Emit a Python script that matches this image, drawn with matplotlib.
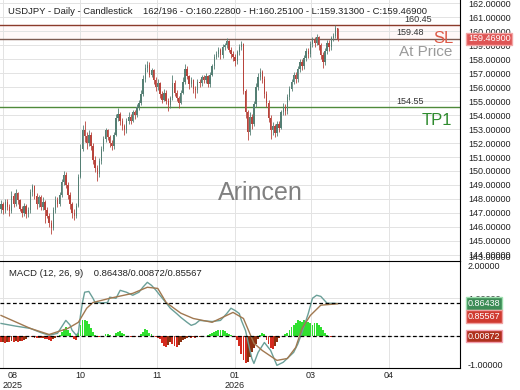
import matplotlib.pyplot as plt
from matplotlib import transforms

plt.rcParams['font.family'] = ['Liberation Sans', 'DejaVu Sans']

# daily candles (bar 0 .. 161)
first_open = 147.3
closes = [147.6, 147.2, 147.8, 147.4, 147.1, 148.2, 147.6, 148.4, 147.9, 147.3,
          147.0, 147.5, 146.9, 147.2, 148.5, 148.9, 148.2, 147.6, 148.1, 147.4,
          147.8, 147.2, 146.8, 146.3, 145.9, 147.2, 147.9, 147.6, 148.3, 149.2,
          149.7, 149.0, 148.3, 147.6, 147.0, 146.8, 147.5, 149.6, 151.6, 152.9,
          152.5, 152.0, 152.6, 151.8, 150.8, 150.2, 149.8, 150.7, 151.6, 152.3,
          152.9, 152.4, 152.0, 151.8, 152.6, 153.8, 154.1, 153.6, 153.2, 152.9,
          153.6, 153.9, 153.6, 154.2, 154.0, 154.6, 154.9, 155.5, 156.6, 157.4,
          157.6, 156.9, 157.2, 156.5, 156.0, 156.3, 155.5, 155.1, 155.6, 155.0,
          154.7, 155.2, 156.3, 155.6, 155.2, 154.9, 155.6, 156.4, 157.3, 156.8,
          156.2, 156.5, 155.9, 155.8, 156.4, 156.3, 156.7, 156.5, 156.8, 156.2,
          156.9, 157.5, 158.2, 158.4, 158.7, 158.3, 158.9, 159.0, 159.3, 158.7,
          158.4, 158.2, 157.9, 158.5, 158.9, 159.1, 155.7, 154.2, 152.8, 153.9,
          153.4, 154.8, 156.0, 156.7, 157.1, 156.6, 155.5, 154.9, 153.8, 152.9,
          153.2, 152.7, 153.4, 153.1, 154.2, 154.6, 154.3, 155.3, 155.9, 156.4,
          156.9, 156.6, 157.3, 157.8, 157.5, 158.1, 158.6, 158.4, 159.1, 159.4,
          159.2, 159.6, 159.0, 158.3, 157.8, 158.6, 159.2, 158.9, 159.5, 159.7,
          160.228, 159.469]
highs = [147.9, 147.8, 148.0, 148.0, 147.6, 148.6, 148.4, 148.7, 148.5, 148.0,
         147.5, 147.7, 147.6, 147.4, 148.7, 149.1, 149.0, 148.4, 148.3, 148.3,
         148.1, 147.9, 147.4, 147.0, 146.5, 147.4, 148.2, 148.1, 148.5, 149.4,
         150.0, 149.9, 149.2, 148.5, 147.8, 147.3, 147.7, 149.8, 151.9, 153.3,
         153.6, 152.8, 152.9, 152.8, 152.0, 151.1, 150.4, 150.9, 151.8, 152.5,
         153.1, 153.0, 152.6, 152.2, 152.8, 154.1, 154.5, 154.2, 153.8, 153.4,
         153.8, 154.2, 154.1, 154.4, 154.4, 154.8, 155.1, 155.8, 156.9, 157.7,
         157.9, 157.8, 157.4, 157.3, 156.7, 156.6, 156.4, 155.7, 155.9, 155.8,
         155.2, 155.4, 156.9, 156.5, 155.8, 155.4, 155.8, 156.7, 157.7, 157.5,
         156.9, 156.7, 156.6, 156.1, 156.6, 156.6, 156.9, 156.9, 157.0, 156.9,
         157.1, 157.7, 158.4, 158.6, 158.9, 158.8, 159.1, 159.2, 159.5, 159.4,
         158.9, 158.6, 158.4, 158.7, 159.1, 159.3, 159.2, 155.9, 154.4, 154.2,
         154.1, 155.0, 156.3, 157.0, 157.4, 157.2, 156.8, 155.7, 155.1, 154.0,
         153.5, 153.4, 153.6, 153.6, 154.4, 154.9, 154.8, 155.5, 156.1, 156.6,
         157.1, 157.1, 157.5, 158.0, 158.0, 158.3, 158.8, 158.8, 159.3, 159.6,
         159.6, 159.8, 159.7, 159.2, 158.5, 158.8, 159.4, 159.4, 159.7, 159.9,
         160.45, 160.251]
lows = [147.0, 146.9, 147.0, 147.2, 146.8, 147.0, 147.4, 147.5, 147.6, 147.1,
        146.7, 146.8, 146.6, 146.7, 147.0, 148.2, 148.0, 147.3, 147.4, 147.2,
        147.2, 146.3, 146.6, 146.0, 145.5, 145.8, 147.0, 147.4, 147.5, 148.1,
        149.0, 148.8, 148.0, 147.3, 146.6, 146.5, 146.6, 147.4, 149.5, 151.4,
        152.1, 151.6, 151.8, 151.5, 150.5, 149.9, 149.3, 149.6, 150.5, 151.4,
        152.1, 152.2, 151.7, 151.5, 151.6, 152.5, 153.6, 153.3, 152.9, 152.6,
        152.7, 153.4, 153.4, 153.5, 153.7, 153.9, 154.4, 154.7, 155.4, 156.4,
        157.1, 156.7, 156.7, 156.2, 155.7, 155.8, 155.2, 154.9, 155.0, 154.8,
        154.3, 154.5, 155.1, 155.4, 155.0, 154.5, 154.8, 155.5, 156.2, 156.6,
        155.9, 156.0, 155.6, 155.2, 155.6, 156.0, 156.1, 156.3, 156.3, 156.0,
        156.0, 156.8, 157.3, 158.0, 158.2, 158.0, 158.1, 158.7, 158.8, 158.5,
        158.1, 157.9, 157.5, 157.7, 158.3, 158.7, 155.5, 153.8, 152.2, 152.6,
        153.0, 153.2, 154.6, 155.8, 156.5, 156.3, 155.2, 154.6, 153.5, 152.3,
        152.6, 152.4, 152.5, 152.8, 153.0, 154.0, 154.0, 154.1, 155.1, 155.7,
        156.2, 156.3, 156.4, 157.1, 157.2, 157.3, 157.9, 158.1, 158.2, 158.9,
        158.9, 159.0, 158.7, 158.0, 157.4, 157.6, 158.4, 158.6, 158.7, 159.3,
        159.5, 159.313]

# MACD (12, 26, 9) lines, read at points along the curves (bar index, value)
macd_idx = [0, 7, 14, 19, 23, 27, 29, 31, 33, 34, 36, 37, 38, 39, 40, 42, 44, 45,
            48, 51, 52, 55, 57, 60, 63, 66, 68, 70, 72, 74, 76, 79, 81, 84, 86,
            89, 91, 93, 95, 101, 105, 108, 110, 112, 114, 115, 117, 118, 120, 121,
            123, 126, 129, 132, 135, 140, 142, 144, 147, 149, 151, 153, 156, 159,
            161]
macd_val = [0.34, 0.27, 0.21, 0.10, 0.03, 0.08, 0.25, 0.42, 0.30, 0.16, 0.03,
            0.10, 0.55, 0.90, 1.16, 1.18, 1.00, 0.89, 0.88, 0.89, 1.03, 1.00, 1.21,
            1.16, 1.08, 1.16, 1.30, 1.42, 1.34, 1.22, 1.08, 0.88, 0.74, 0.60, 0.50,
            0.37, 0.29, 0.33, 0.42, 0.39, 0.42, 0.60, 0.74, 0.68, 0.60, 0.42, 0.15,
            -0.10, -0.58, -0.71, -0.42, -0.16, -0.37, -0.76, -0.68, -0.42, -0.20,
            0.10, 0.60, 1.00, 1.08, 1.05, 0.87, 0.87, 0.86438]
sig_idx = [0, 14, 23, 32, 37, 41, 44, 52, 63, 70, 75, 79, 86, 92, 101, 111, 116,
           121, 125, 132, 137, 141, 144, 148, 153, 161]
sig_val = [0.55, 0.21, 0.05, 0.21, 0.37, 0.74, 0.89, 1.00, 1.13, 1.29, 1.26, 0.89,
           0.61, 0.47, 0.37, 0.63, 0.47, -0.18, -0.37, -0.63, -0.58, -0.29, 0.21,
           0.55, 0.82, 0.85567]
hist = [-0.16, -0.15, -0.17, -0.14, -0.15, -0.13, -0.15, -0.12, -0.14, -0.11,
        -0.12, -0.10, -0.08, -0.02, 0.01, -0.01, -0.03, -0.04, -0.03, -0.05,
        -0.04, -0.06, -0.08, -0.10, -0.12, -0.08, -0.03, 0.01, 0.04, 0.12,
        0.20, 0.24, 0.18, 0.10, 0.02, -0.08, -0.10, 0.10, 0.30, 0.42,
        0.44, 0.40, 0.32, 0.22, 0.12, 0.03, 0.01, -0.01, 0.0, 0.01,
        0.05, 0.07, 0.04, 0.01, 0.02, 0.08, 0.12, 0.13, 0.10, 0.05,
        0.02, -0.01, -0.02, -0.01, -0.02, 0.0, 0.02, 0.05, 0.12, 0.20,
        0.18, 0.10, 0.05, 0.01, -0.01, -0.03, -0.08, -0.18, -0.26, -0.28,
        -0.22, -0.16, -0.20, -0.25, -0.27, -0.22, -0.15, -0.10, -0.06, -0.03,
        -0.02, -0.03, -0.02, -0.04, -0.02, -0.01, 0.0, 0.01, 0.02, 0.04,
        0.06, 0.08, 0.11, 0.14, 0.17, 0.18, 0.16, 0.13, 0.10, 0.06,
        0.03, 0.01, -0.02, -0.10, -0.25, -0.45, -0.62, -0.70, -0.68, -0.55,
        -0.42, -0.30, -0.20, -0.08, 0.04, 0.10, 0.05, -0.10, -0.20, -0.30,
        -0.32, -0.25, -0.15, -0.05, 0.0, 0.02, 0.05, 0.10, 0.18, 0.25,
        0.30, 0.36, 0.42, 0.40, 0.38, 0.42, 0.40, 0.38, 0.34, 0.30,
        0.34, 0.36, 0.30, 0.24, 0.18, 0.10, 0.04, 0.01, -0.01, 0.0,
        0.01, 0.00872]

tick_pos = [0.96, 37.8, 74.6, 112.0, 148.3, 185.6]
tick_labels = ['08\n2025', '10', '11', '01\n2026', '03', '04']

sl_level = 159.48
high_level = 160.45
tp_level = 154.55
last_price = 159.469

up_col, dn_col = '#557f74', '#b8443c'

fig = plt.figure(figsize=(5.2, 3.9), dpi=100)
ax = fig.add_axes([0, 0.3308, 0.8846, 0.6692])
ax2 = fig.add_axes([0, 0.0564, 0.8846, 0.2744], sharex=ax)

# ---- price panel
opens = [first_open] + closes[:-1]
xs = list(range(len(closes)))
cols = [up_col if c >= o else dn_col for o, c in zip(opens, closes)]
ax.vlines(xs, lows, highs, colors=cols, lw=0.6, zorder=3)
ax.bar(xs, [max(abs(c - o), 0.04) for o, c in zip(opens, closes)],
       bottom=[min(o, c) for o, c in zip(opens, closes)], width=0.65,
       color=cols, zorder=3)

ax.axhspan(sl_level, high_level, color='#fff8f8', zorder=0)
ax.axhline(high_level, color='#8b3a2a', lw=1, zorder=2)
ax.axhline(sl_level, color='#7d5a50', lw=1, zorder=2)
ax.axhline(tp_level, color='#4f8a3a', lw=1, zorder=2)

ax.set_xlim(-0.5, 219.6)
ax.set_ylim(143.55, 162.25)
ax.set_yticks(range(144, 163))
ax.yaxis.tick_right()
ax.yaxis.set_major_formatter(plt.FuncFormatter(lambda v, p: f'{v:.5f}'))
ax.tick_params(axis='y', length=0, pad=5.8, labelsize=6.5, colors='#222222')
ax.tick_params(axis='x', length=0, labelbottom=False)
ax.set_xticks(tick_pos)
ax.grid(True, color='#e3e3e3', lw=0.7, zorder=0)
for s in ['left', 'top', 'bottom']:
    ax.spines[s].set_visible(False)
ax.spines['right'].set_color('black')

bt = transforms.blended_transform_factory(ax.transAxes, ax.transData)
ax.text(0.939, high_level + 0.08, f'{high_level:.2f}', transform=bt, ha='right',
        va='bottom', fontsize=6.5, color='#333333')
ax.text(0.922, sl_level + 0.12, f'{sl_level:.2f}', transform=bt, ha='right',
        va='bottom', fontsize=6.5, color='#333333')
ax.text(0.922, tp_level + 0.12, f'{tp_level:.2f}', transform=bt, ha='right',
        va='bottom', fontsize=6.5, color='#333333')
ax.text(0.985, sl_level, 'SL', transform=bt, ha='right', va='center',
        fontsize=12, color='#dd5a48')
ax.text(0.983, 158.5, 'At Price', transform=bt, ha='right', va='center',
        fontsize=11, color='#9a9a9a')
ax.text(0.983, 153.62, 'TP1', transform=bt, ha='right', va='center',
        fontsize=12, color='#2e8b2e')
ax.text(0.565, 0.26, 'Arincen', transform=ax.transAxes, ha='center', va='center',
        fontsize=18, color='#808080')
ax.text(1.0174, last_price, f'{last_price:.5f}', transform=bt, ha='left',
        va='center', fontsize=6.5, color='white', clip_on=False, zorder=6,
        bbox=dict(boxstyle='square,pad=0.2', fc='#df5555', ec='#f3a5a5', lw=1))
ax.text(1.0174, 0.015, '143.00000', transform=ax.transAxes, ha='left',
        va='center', fontsize=6.5, color='#222222', clip_on=False)

fig.text(8 / 520, 1 - 12 / 390,
         'USDJPY - Daily - Candlestick    162/196 - O:160.22800 - H:160.25100'
         ' - L:159.31300 - C:159.46900', fontsize=6.8, color='#222222',
         va='center')

# ---- MACD panel
hcols = []
for i, h in enumerate(hist):
    prev = hist[i - 1] if i else h
    if h >= 0:
        hcols.append('#2fe02f')
    else:
        hcols.append('#d42a1e' if h <= prev else '#8b3010')
ax2.bar(range(len(hist)), hist, width=0.9, color=hcols, zorder=2)
ax2.plot(macd_idx, macd_val, color='#6a9f98', lw=1, zorder=3)
ax2.plot(sig_idx, sig_val, color='#a07850', lw=1, zorder=3)
ax2.axhline(macd_val[-1], color='black', lw=0.9, ls=(0, (3, 2)), zorder=4)
ax2.axhline(hist[-1], color='black', lw=0.9, ls=(0, (3, 2)), zorder=4)

ax2.set_ylim(-0.83, 1.98)
ax2.set_yticks([0, 1])
ax2.yaxis.tick_right()
ax2.yaxis.set_major_formatter(plt.FuncFormatter(lambda v, p: f'{v:.5f}'))
ax2.tick_params(axis='y', length=0, pad=5.8, labelsize=6.5, colors='#222222')
ax2.set_xticks(tick_pos)
ax2.set_xticklabels(tick_labels)
ax2.tick_params(axis='x', length=0, pad=2, labelsize=6.5, colors='#222222')
lbl = ax2.get_xticklabels()[0]
lbl.set_horizontalalignment('left')
lbl.set_multialignment('center')
ax2.grid(True, color='#e3e3e3', lw=0.7, zorder=0)
ax2.spines['left'].set_visible(False)
for s in ['top', 'right', 'bottom']:
    ax2.spines[s].set_color('black')

ax2.text(0.02, 0.88, 'MACD (12, 26, 9)    0.86438/0.00872/0.85567',
         transform=ax2.transAxes, fontsize=6.8, color='#222222', va='center')
ax2.text(1.0174, 0.944, '2.00000', transform=ax2.transAxes, ha='left',
         va='center', fontsize=6.5, color='#222222', clip_on=False)
ax2.text(1.0174, 0.028, '-1.00000', transform=ax2.transAxes, ha='left',
         va='center', fontsize=6.5, color='#222222', clip_on=False)

bt2 = transforms.blended_transform_factory(ax2.transAxes, ax2.transData)
tag = dict(transform=bt2, ha='left', va='center', fontsize=6.5, color='white',
           clip_on=False, zorder=6)
ax2.text(1.0174, macd_val[-1], f'{macd_val[-1]:.5f}',
         bbox=dict(boxstyle='square,pad=0.2', fc='#3c8c56', ec='#9fe0b0', lw=1), **tag)
ax2.text(1.0174, 0.53, f'{sig_val[-1]:.5f}',
         bbox=dict(boxstyle='square,pad=0.2', fc='#d03a30', ec='#f0a0a0', lw=1), **tag)
ax2.text(1.0174, hist[-1], f'{hist[-1]:.5f}',
         bbox=dict(boxstyle='square,pad=0.2', fc='#b0301e', ec='#f3a0b0', lw=1), **tag)

fig.savefig('out.png', dpi=100)
